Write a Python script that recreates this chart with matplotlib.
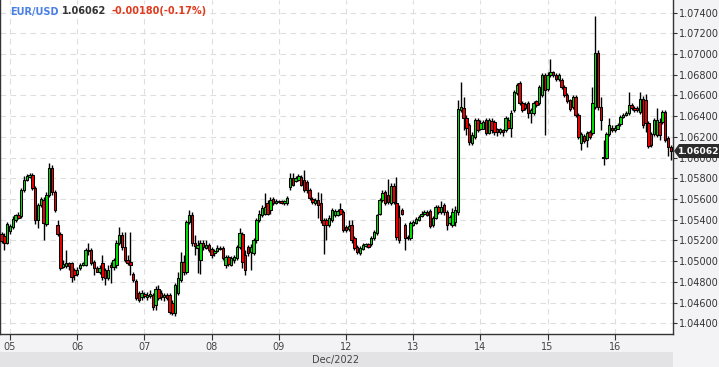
import numpy as np
import matplotlib
matplotlib.use("Agg")
import matplotlib.pyplot as plt
from matplotlib.patches import Polygon, Rectangle

# ---------------- data (hourly EUR/USD candles) ----------------
opens = [
    1.0526, 1.0524, 1.0518, 1.0529, 1.0533, 1.0540, 1.0545, 1.0544, 1.0569, 1.0578,
    1.0581, 1.0583, 1.0571, 1.0540, 1.0554, 1.0559, 1.0536, 1.0564, 1.0590, 1.0567,
    1.0535, 1.0526, 1.0494, 1.0495, 1.0498, 1.0498, 1.0491, 1.0488, 1.0493, 1.0496,
    1.0496, 1.0510, 1.0511, 1.0499, 1.0493, 1.0490, 1.0498, 1.0491, 1.0484, 1.0496,
    1.0494, 1.0496, 1.0518, 1.0525, 1.0514, 1.0501, 1.0499, 1.0488, 1.0481, 1.0469,
    1.0465, 1.0468, 1.0465, 1.0466, 1.0467, 1.0458, 1.0473, 1.0469, 1.0465, 1.0467,
    1.0467, 1.0460, 1.0450, 1.0469, 1.0482, 1.0499, 1.0490, 1.0538, 1.0545, 1.0518,
    1.0513, 1.0501, 1.0518, 1.0513, 1.0516, 1.0512, 1.0508, 1.0510, 1.0512, 1.0513,
    1.0496, 1.0504, 1.0496, 1.0501, 1.0503, 1.0514, 1.0526, 1.0506, 1.0514, 1.0509,
    1.0508, 1.0520, 1.0540, 1.0545, 1.0546, 1.0556, 1.0549, 1.0560, 1.0556, 1.0558,
    1.0558, 1.0556, 1.0556, 1.0572, 1.0580, 1.0577, 1.0578, 1.0581, 1.0578, 1.0576,
    1.0569, 1.0560, 1.0556, 1.0559, 1.0556, 1.0540, 1.0540, 1.0535, 1.0540, 1.0545,
    1.0545, 1.0550, 1.0547, 1.0533, 1.0531, 1.0535, 1.0522, 1.0514, 1.0508, 1.0512,
    1.0515, 1.0517, 1.0517, 1.0522, 1.0527, 1.0546, 1.0559, 1.0567, 1.0564, 1.0556,
    1.0573, 1.0556, 1.0543, 1.0549, 1.0535, 1.0523, 1.0522, 1.0535, 1.0537, 1.0540,
    1.0544, 1.0546, 1.0547, 1.0548, 1.0535, 1.0542, 1.0552, 1.0547, 1.0554, 1.0547,
    1.0537, 1.0535, 1.0538, 1.0547, 1.0646, 1.0648, 1.0638, 1.0631, 1.0614, 1.0620,
    1.0636, 1.0628, 1.0628, 1.0636, 1.0624, 1.0635, 1.0634, 1.0628, 1.0625, 1.0627,
    1.0627, 1.0636, 1.0629, 1.0646, 1.0662, 1.0672, 1.0653, 1.0652, 1.0653, 1.0643,
    1.0643, 1.0655, 1.0653, 1.0660, 1.0680, 1.0666, 1.0680, 1.0683, 1.0680, 1.0676,
    1.0675, 1.0668, 1.0660, 1.0656, 1.0649, 1.0658, 1.0641, 1.0614, 1.0621, 1.0617,
    1.0625, 1.0624, 1.0649, 1.0701, 1.0649, 1.0601, 1.0600, 1.0623, 1.0629, 1.0627,
    1.0628, 1.0632, 1.0639, 1.0641, 1.0643, 1.0651, 1.0648, 1.0648, 1.0644, 1.0657,
    1.0656, 1.0633, 1.0623, 1.0623, 1.0622, 1.0634, 1.0634, 1.0644, 1.0619, 1.0610,
]
highs = [
    1.0528, 1.0527, 1.0538, 1.0536, 1.0544, 1.0546, 1.0547, 1.0571, 1.0582, 1.0584,
    1.0585, 1.0585, 1.0573, 1.0556, 1.0562, 1.0562, 1.0567, 1.0595, 1.0593, 1.0569,
    1.0540, 1.0528, 1.0501, 1.0511, 1.0499, 1.0499, 1.0493, 1.0494, 1.0498, 1.0499,
    1.0513, 1.0518, 1.0513, 1.0501, 1.0495, 1.0496, 1.0506, 1.0493, 1.0496, 1.0499,
    1.0503, 1.0520, 1.0533, 1.0528, 1.0528, 1.0506, 1.0528, 1.0490, 1.0483, 1.0471,
    1.0472, 1.0470, 1.0470, 1.0472, 1.0469, 1.0476, 1.0477, 1.0472, 1.0469, 1.0469,
    1.0469, 1.0463, 1.0479, 1.0490, 1.0509, 1.0506, 1.0540, 1.0549, 1.0547, 1.0525,
    1.0520, 1.0520, 1.0520, 1.0520, 1.0518, 1.0514, 1.0512, 1.0516, 1.0515, 1.0515,
    1.0506, 1.0506, 1.0505, 1.0506, 1.0516, 1.0532, 1.0528, 1.0511, 1.0516, 1.0517,
    1.0522, 1.0542, 1.0549, 1.0554, 1.0566, 1.0559, 1.0562, 1.0562, 1.0560, 1.0559,
    1.0559, 1.0559, 1.0563, 1.0585, 1.0585, 1.0582, 1.0584, 1.0583, 1.0588, 1.0578,
    1.0571, 1.0562, 1.0561, 1.0567, 1.0566, 1.0542, 1.0542, 1.0545, 1.0551, 1.0550,
    1.0550, 1.0556, 1.0549, 1.0535, 1.0540, 1.0540, 1.0524, 1.0516, 1.0515, 1.0518,
    1.0518, 1.0518, 1.0524, 1.0530, 1.0546, 1.0561, 1.0569, 1.0569, 1.0579, 1.0575,
    1.0575, 1.0581, 1.0554, 1.0551, 1.0537, 1.0525, 1.0539, 1.0540, 1.0543, 1.0545,
    1.0548, 1.0549, 1.0549, 1.0550, 1.0544, 1.0554, 1.0554, 1.0558, 1.0556, 1.0549,
    1.0545, 1.0551, 1.0553, 1.0656, 1.0673, 1.0658, 1.0641, 1.0633, 1.0625, 1.0638,
    1.0638, 1.0636, 1.0636, 1.0638, 1.0638, 1.0638, 1.0636, 1.0629, 1.0629, 1.0628,
    1.0640, 1.0639, 1.0646, 1.0665, 1.0672, 1.0674, 1.0655, 1.0654, 1.0655, 1.0648,
    1.0655, 1.0656, 1.0670, 1.0682, 1.0682, 1.0683, 1.0695, 1.0684, 1.0682, 1.0682,
    1.0677, 1.0670, 1.0662, 1.0657, 1.0660, 1.0660, 1.0643, 1.0625, 1.0623, 1.0626,
    1.0627, 1.0668, 1.0737, 1.0704, 1.0658, 1.0617, 1.0625, 1.0638, 1.0631, 1.0631,
    1.0633, 1.0641, 1.0643, 1.0645, 1.0663, 1.0653, 1.0650, 1.0650, 1.0663, 1.0659,
    1.0661, 1.0635, 1.0625, 1.0638, 1.0648, 1.0638, 1.0646, 1.0646, 1.0621, 1.0612,
]
lows = [
    1.0518, 1.0511, 1.0517, 1.0526, 1.0531, 1.0538, 1.0541, 1.0542, 1.0567, 1.0577,
    1.0580, 1.0569, 1.0536, 1.0532, 1.0552, 1.0520, 1.0534, 1.0562, 1.0564, 1.0547,
    1.0524, 1.0491, 1.0493, 1.0493, 1.0491, 1.0480, 1.0482, 1.0486, 1.0491, 1.0495,
    1.0495, 1.0506, 1.0496, 1.0487, 1.0490, 1.0488, 1.0482, 1.0477, 1.0482, 1.0479,
    1.0491, 1.0493, 1.0516, 1.0511, 1.0499, 1.0496, 1.0487, 1.0480, 1.0463, 1.0461,
    1.0463, 1.0464, 1.0463, 1.0464, 1.0453, 1.0453, 1.0463, 1.0463, 1.0462, 1.0463,
    1.0449, 1.0448, 1.0447, 1.0467, 1.0480, 1.0487, 1.0488, 1.0536, 1.0515, 1.0506,
    1.0489, 1.0488, 1.0511, 1.0512, 1.0509, 1.0503, 1.0505, 1.0509, 1.0511, 1.0501,
    1.0493, 1.0495, 1.0495, 1.0498, 1.0501, 1.0512, 1.0493, 1.0487, 1.0505, 1.0491,
    1.0506, 1.0518, 1.0538, 1.0543, 1.0545, 1.0545, 1.0546, 1.0554, 1.0555, 1.0556,
    1.0555, 1.0554, 1.0554, 1.0569, 1.0573, 1.0576, 1.0577, 1.0573, 1.0567, 1.0566,
    1.0559, 1.0555, 1.0554, 1.0542, 1.0537, 1.0507, 1.0520, 1.0533, 1.0538, 1.0543,
    1.0544, 1.0545, 1.0528, 1.0528, 1.0529, 1.0518, 1.0511, 1.0507, 1.0506, 1.0511,
    1.0514, 1.0513, 1.0515, 1.0520, 1.0525, 1.0545, 1.0557, 1.0554, 1.0555, 1.0554,
    1.0555, 1.0520, 1.0518, 1.0545, 1.0511, 1.0520, 1.0520, 1.0534, 1.0536, 1.0539,
    1.0543, 1.0545, 1.0544, 1.0532, 1.0533, 1.0541, 1.0546, 1.0546, 1.0545, 1.0530,
    1.0535, 1.0533, 1.0534, 1.0545, 1.0644, 1.0627, 1.0622, 1.0612, 1.0612, 1.0618,
    1.0625, 1.0627, 1.0628, 1.0622, 1.0623, 1.0624, 1.0622, 1.0621, 1.0623, 1.0621,
    1.0625, 1.0628, 1.0620, 1.0644, 1.0660, 1.0651, 1.0644, 1.0646, 1.0638, 1.0633,
    1.0641, 1.0649, 1.0651, 1.0658, 1.0622, 1.0664, 1.0678, 1.0678, 1.0674, 1.0674,
    1.0666, 1.0658, 1.0653, 1.0645, 1.0647, 1.0639, 1.0618, 1.0607, 1.0614, 1.0610,
    1.0618, 1.0622, 1.0647, 1.0646, 1.0627, 1.0593, 1.0599, 1.0621, 1.0625, 1.0625,
    1.0628, 1.0630, 1.0638, 1.0640, 1.0641, 1.0646, 1.0644, 1.0644, 1.0642, 1.0629,
    1.0625, 1.0609, 1.0610, 1.0621, 1.0620, 1.0617, 1.0632, 1.0615, 1.0602, 1.0598,
]
closes = [
    1.0519, 1.0518, 1.0536, 1.0534, 1.0541, 1.0545, 1.0542, 1.0569, 1.0578, 1.0582,
    1.0583, 1.0571, 1.0540, 1.0554, 1.0560, 1.0537, 1.0564, 1.0590, 1.0567, 1.0549,
    1.0526, 1.0493, 1.0497, 1.0498, 1.0495, 1.0485, 1.0487, 1.0491, 1.0496, 1.0498,
    1.0511, 1.0511, 1.0498, 1.0493, 1.0490, 1.0493, 1.0485, 1.0484, 1.0491, 1.0494,
    1.0501, 1.0518, 1.0525, 1.0514, 1.0501, 1.0498, 1.0496, 1.0482, 1.0464, 1.0463,
    1.0469, 1.0466, 1.0467, 1.0468, 1.0456, 1.0473, 1.0464, 1.0465, 1.0467, 1.0464,
    1.0451, 1.0450, 1.0477, 1.0484, 1.0499, 1.0490, 1.0538, 1.0545, 1.0518, 1.0515,
    1.0516, 1.0518, 1.0514, 1.0516, 1.0511, 1.0506, 1.0510, 1.0513, 1.0513, 1.0503,
    1.0504, 1.0497, 1.0503, 1.0504, 1.0514, 1.0527, 1.0499, 1.0491, 1.0508, 1.0514,
    1.0520, 1.0540, 1.0546, 1.0551, 1.0552, 1.0546, 1.0559, 1.0556, 1.0558, 1.0557,
    1.0556, 1.0558, 1.0561, 1.0580, 1.0574, 1.0580, 1.0582, 1.0574, 1.0569, 1.0569,
    1.0561, 1.0557, 1.0559, 1.0554, 1.0540, 1.0535, 1.0535, 1.0542, 1.0549, 1.0548,
    1.0548, 1.0546, 1.0530, 1.0530, 1.0534, 1.0520, 1.0513, 1.0509, 1.0513, 1.0516,
    1.0517, 1.0514, 1.0522, 1.0528, 1.0545, 1.0559, 1.0566, 1.0556, 1.0557, 1.0573,
    1.0557, 1.0523, 1.0520, 1.0546, 1.0522, 1.0522, 1.0537, 1.0538, 1.0541, 1.0543,
    1.0546, 1.0547, 1.0545, 1.0534, 1.0542, 1.0552, 1.0547, 1.0552, 1.0547, 1.0535,
    1.0543, 1.0547, 1.0549, 1.0647, 1.0649, 1.0638, 1.0629, 1.0615, 1.0622, 1.0636,
    1.0627, 1.0633, 1.0634, 1.0624, 1.0636, 1.0627, 1.0625, 1.0625, 1.0628, 1.0625,
    1.0638, 1.0629, 1.0643, 1.0663, 1.0670, 1.0653, 1.0646, 1.0648, 1.0643, 1.0646,
    1.0653, 1.0651, 1.0668, 1.0680, 1.0665, 1.0680, 1.0683, 1.0680, 1.0676, 1.0680,
    1.0668, 1.0660, 1.0655, 1.0647, 1.0658, 1.0641, 1.0620, 1.0623, 1.0616, 1.0624,
    1.0620, 1.0653, 1.0701, 1.0649, 1.0636, 1.0600, 1.0623, 1.0631, 1.0627, 1.0629,
    1.0631, 1.0639, 1.0641, 1.0643, 1.0651, 1.0648, 1.0646, 1.0646, 1.0657, 1.0631,
    1.0633, 1.0611, 1.0612, 1.0636, 1.0636, 1.0622, 1.0644, 1.0617, 1.0610, 1.06062,
]
day_tick_index = [3, 27, 51, 75, 99, 123, 147, 171, 195, 219]
day_labels = ["05", "06", "07", "08", "09", "12", "13", "14", "15", "16"]
price_ticks = [1.044, 1.046, 1.048, 1.050, 1.052, 1.054, 1.056, 1.058,
               1.060, 1.062, 1.064, 1.066, 1.068, 1.070, 1.072, 1.074]
symbol = "EUR/USD"
last_price = "1.06062"
change_text = "-0.00180(-0.17%)"
month_label = "Dec/2022"

# ---------------- figure ----------------
W, H = 719, 367
fig = plt.figure(figsize=(W / 100, H / 100), dpi=100, facecolor="#f3f3f5")
ax = fig.add_axes([0, 33 / H, 673 / W, 334 / H])
ax.set_facecolor("white")

o = np.array(opens); h = np.array(highs); l = np.array(lows); c = np.array(closes)
idx = np.arange(len(c))
up = c >= o
cols = np.where(up, "#00e000", "#ee0000")

ax.vlines(idx, l, h, color="black", lw=1.0, zorder=2)
body = np.maximum(np.abs(c - o), 0.00003)
ax.bar(idx, body, bottom=np.minimum(o, c), width=0.9, color=cols,
       edgecolor="black", linewidth=0.75, zorder=3)

ax.set_xlim(-0.57, 239.79)
ax.set_ylim(1.04297, 1.07521)

ax.yaxis.tick_right()
ax.set_yticks(price_ticks)
ax.set_yticklabels([f"{v:.5f}" for v in price_ticks])
ax.tick_params(axis="y", length=3, width=0.8, color="#333333",
               labelcolor="#333333", labelsize=7, pad=1.5)
ax.set_xticks(day_tick_index)
ax.set_xticklabels(day_labels)
ax.tick_params(axis="x", length=4, width=0.8, color="#333333",
               labelcolor="#444444", labelsize=7, pad=2)

for s in ["left", "right", "bottom"]:
    ax.spines[s].set_color("#333333")
    ax.spines[s].set_linewidth(1.0)
ax.spines["top"].set_visible(False)

ax.grid(True, color="#dedede", ls=(0, (5, 4)), lw=0.8)
ax.set_axisbelow(True)

# bottom month band
fig.add_artist(Rectangle((0, 0), 673 / W, 15 / H, transform=fig.transFigure,
                         facecolor="#e3e3e6", edgecolor="none", zorder=0))
fig.text(336 / W, 7.5 / H, month_label, ha="center", va="center",
         fontsize=7, color="#444444")

# title
ty = 1 - 11.5 / H
fig.text(10 / W, ty, symbol, color="#4a80e6", fontsize=7, weight="bold", va="center")
fig.text(62 / W, ty, last_price, color="#333333", fontsize=7, weight="bold", va="center")
fig.text(111 / W, ty, change_text, color="#e03a1e", fontsize=7, weight="bold", va="center")

# last price marker
py = 151
pts = [(674, py), (679, py - 7), (719, py - 7), (719, py + 7), (679, py + 7)]
fig.add_artist(Polygon([(x / W, 1 - y / H) for x, y in pts], closed=True,
                       transform=fig.transFigure, facecolor="#2b2b2b",
                       edgecolor="none", zorder=10))
fig.text(698.5 / W, 1 - py / H, last_price, color="white", fontsize=6.6,
         weight="bold", ha="center", va="center", zorder=11)

fig.savefig("out.png", dpi=100, facecolor=fig.get_facecolor())
